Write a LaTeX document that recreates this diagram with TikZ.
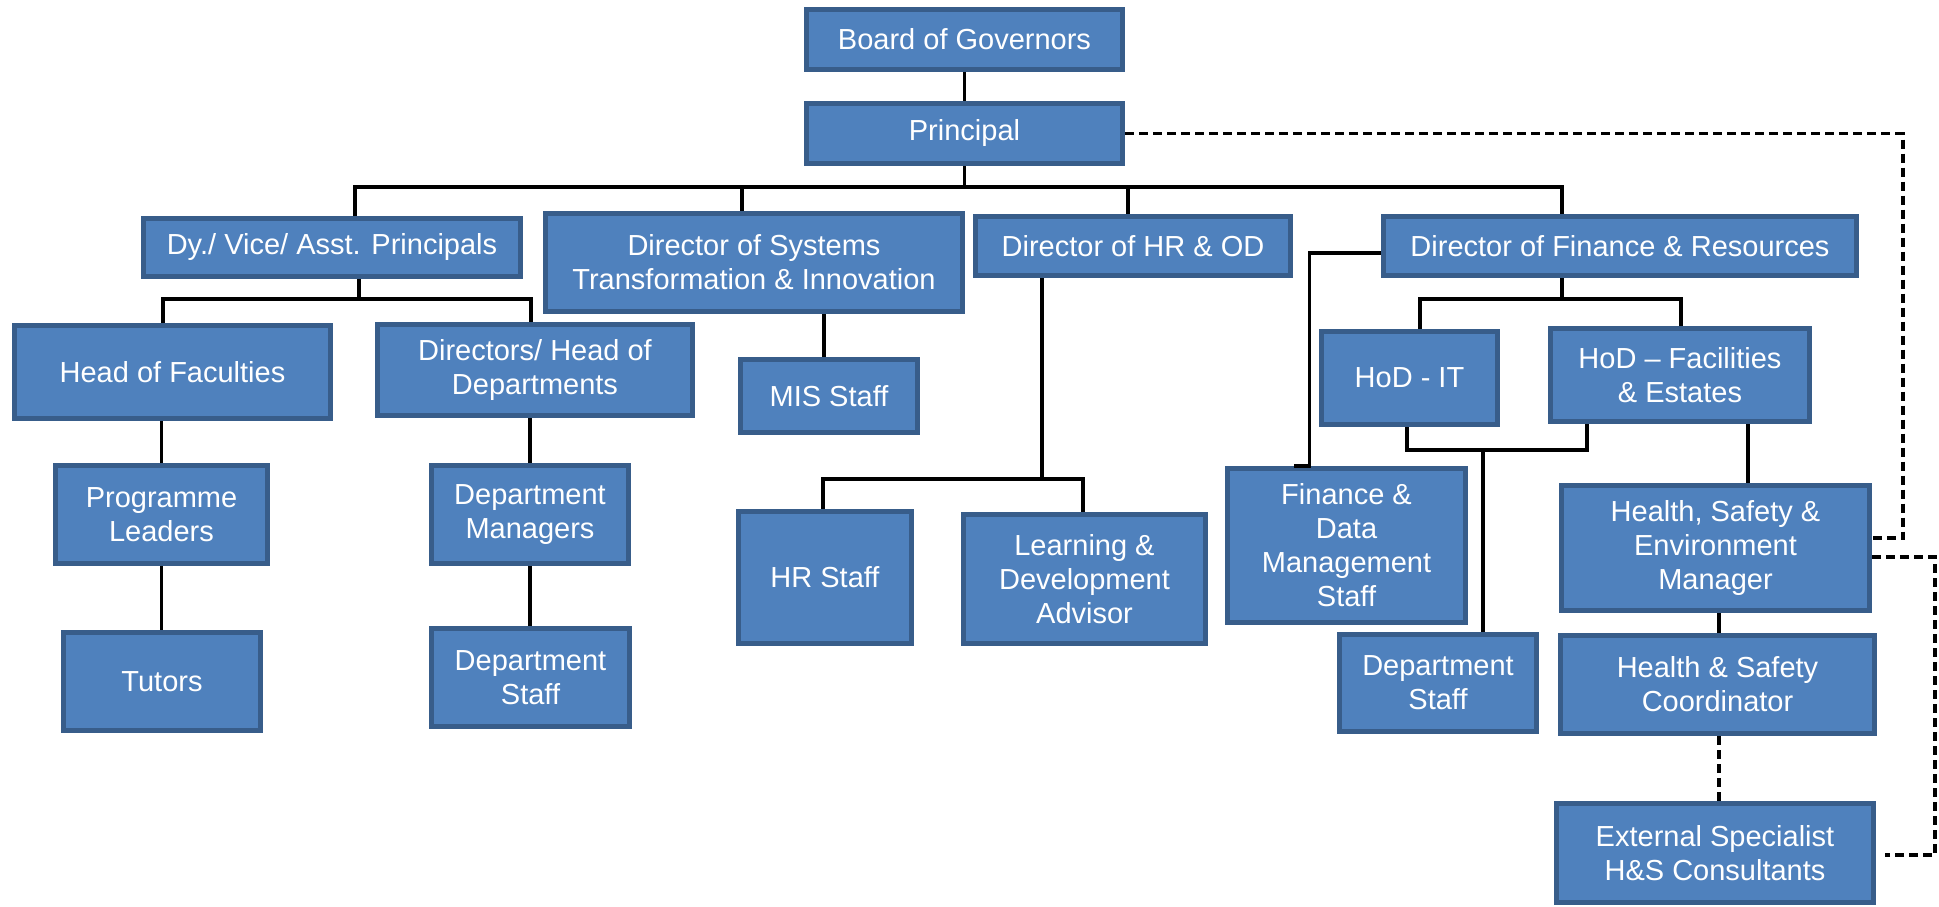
\documentclass[tikz,border=0pt]{standalone}
\usepackage{fontspec}
\setmainfont{Liberation Sans}
\usepackage{xcolor}
\usepackage{tikz}
\usetikzlibrary{positioning}

\definecolor{boxfill}{HTML}{4F81BD}
\definecolor{boxline}{HTML}{385D8A}

\tikzset{
    box/.style={draw=boxline, line width=5pt, fill=boxfill, text=white,
        align=center, inner sep=0pt,
        font=\fontsize{29}{34}\selectfont},
    conn/.style={line width=3.5pt, black},
    dashconn/.style={line width=3.5pt, black, dash pattern=on 9pt off 5pt}
}

\begin{document}
\begin{tikzpicture}[x=1pt, y=-1pt]
    \useasboundingbox (0,0) rectangle (1939,907);

    % Top of the chart
    \node[box, minimum width=316pt, minimum height=60pt] (gov) at (964.5,39.5) {Board of Governors};
    \node[box, minimum width=316pt, minimum height=60pt] (principal) at (964.5,133.5) {Principal};

    % Directors
    \node[box, minimum width=377pt, minimum height=58pt] (dyvp) at (332,247.5) {Dy./ Vice/ Asst. Principals};
    \node[box, minimum width=417pt, minimum height=98pt] (dsti) at (754,262.5) {Director of Systems\\Transformation \& Innovation};
    \node[box, minimum width=315pt, minimum height=59pt] (dhr) at (1133,246) {Director of HR \& OD};
    \node[box, minimum width=473pt, minimum height=59pt] (dfr) at (1620,246) {Director of Finance \& Resources};

    % Academic side
    \node[box, minimum width=316pt, minimum height=93pt] (hof) at (172.5,372) {Head of Faculties};
    \node[box, minimum width=315pt, minimum height=91pt] (dhod) at (535,370) {Directors/ Head of\\Departments};
    \node[box, minimum width=212pt, minimum height=98pt] (pl) at (161.5,514.5) {Programme\\Leaders};
    \node[box, minimum width=197pt, minimum height=98pt] (tutors) at (162,681.5) {Tutors};
    \node[box, minimum width=197pt, minimum height=98pt] (dm) at (530,514.5) {Department\\Managers};
    \node[box, minimum width=198pt, minimum height=98pt] (dsleft) at (530.5,677.5) {Department\\Staff};

    % Systems and HR
    \node[box, minimum width=177pt, minimum height=73pt] (mis) at (829,396) {MIS Staff};
    \node[box, minimum width=173pt, minimum height=132pt] (hrs) at (825,577.5) {HR Staff};
    \node[box, minimum width=242pt, minimum height=129pt] (lda) at (1084.5,579) {Learning \&\\Development\\Advisor};

    % Finance and resources
    \node[box, minimum width=238pt, minimum height=154pt] (fdms) at (1346.5,545.5) {Finance \&\\Data\\Management\\Staff};
    \node[box, minimum width=176pt, minimum height=93pt] (hodit) at (1409.5,378) {HoD - IT};
    \node[box, minimum width=259pt, minimum height=93pt] (hodfe) at (1680,375) {HoD -- Facilities\\\& Estates};
    \node[box, minimum width=197pt, minimum height=97pt] (dsright) at (1438,683) {Department\\Staff};
    \node[box, minimum width=308pt, minimum height=125pt] (hsem) at (1715.5,548) {Health, Safety \&\\Environment\\Manager};
    \node[box, minimum width=314pt, minimum height=98pt] (hsc) at (1717.5,684.5) {Health \& Safety\\Coordinator};
    \node[box, minimum width=317pt, minimum height=99pt] (ext) at (1715,853) {External Specialist\\H\&S Consultants};

    % Solid reporting lines
    \draw[conn] (gov) -- (principal);
    \foreach \n/\s in {dyvp/23,dsti/-12,dhr/-5,dfr/-58}
        \draw[conn] (principal.south) -- ++(0,21) -| ([xshift=\s pt]\n.north);
    \foreach \n/\s in {hof/-9.5,dhod/-4}
        \draw[conn] ([xshift=27pt]dyvp.south) -- ++(0,20) -| ([xshift=\s pt]\n.north);
    \draw[conn] (pl.north) -- (pl.north |- hof.south);
    \draw[conn] (pl.south) -- (pl.south |- tutors.north);
    \draw[conn] (dm.north) -- (dm.north |- dhod.south);
    \draw[conn] (dm.south) -- (dm.south |- dsleft.north);
    \draw[conn] ([xshift=-5pt]mis.north) -- ++(0,-43);
    \foreach \n/\s in {hrs/-2,lda/-1.5}
        \draw[conn] ([xshift=-91pt]dhr.south) -- ++(0,201) -| ([xshift=\s pt]\n.north);
    \draw[conn] ([yshift=-7pt]dfr.west) -| ([xshift=-37pt]fdms.north) -- ([xshift=-53pt]fdms.north);
    \foreach \n/\s in {hodit/10.5,hodfe/1}
        \draw[conn] ([xshift=-58pt]dfr.south) -- ++(0,21) -| ([xshift=\s pt]\n.north);
    \draw[conn] ([xshift=-2.5pt]hodit.south) -- ++(0,23) -| ([xshift=-93pt]hodfe.south);
    \draw[conn] ([xshift=45pt]dsright.north) -- ++(0,-182);
    \draw[conn] ([xshift=68pt]hodfe.south) -- ([xshift=32.5pt]hsem.north);
    \draw[conn] ([xshift=3.5pt]hsem.south) -- ([xshift=1.5pt]hsc.north);

    % Dashed advisory lines
    \draw[dashconn] ([xshift=1.5pt]hsc.south) -- ([xshift=4pt]ext.north);
    \draw[dashconn] (principal.east) -- ++(778,0) |- ([yshift=10pt]hsem.east);
    \draw[dashconn] ([yshift=-9pt]hsem.east) -- ++(63,0) |- ([xshift=9pt,yshift=-2pt]ext.east);
\end{tikzpicture}
\end{document}
